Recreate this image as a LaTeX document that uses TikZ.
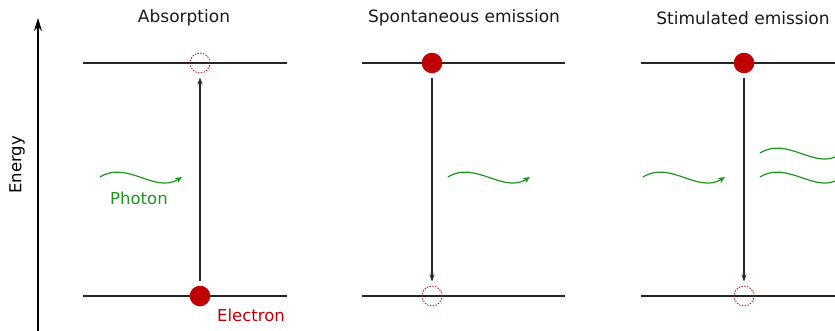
\documentclass[tikz,border=0pt]{standalone}
\usepackage{fontspec}
\setmainfont{DejaVu Sans}
\usetikzlibrary{arrows.meta,calc}
\definecolor{ered}{RGB}{192,0,0}
\definecolor{pgreen}{RGB}{30,150,30}
\begin{document}
\begin{tikzpicture}[x=1pt,y=-1pt,
  level/.style={line width=1.2pt,black!85},
  electron/.style={circle,fill=ered,minimum size=20.6pt,inner sep=0pt,outer sep=5pt},
  hole/.style={circle,draw=ered,dash pattern=on 1.4pt off 1.4pt,line width=0.8pt,minimum size=20pt,inner sep=0pt,outer sep=4.5pt},
  trans/.style={line width=1.1pt,black!85,-{Stealth[length=7pt,width=5pt]}},
  title/.style={font=\fontsize{17}{20}\selectfont,black!90},
  photon/.style={pgreen,line width=1.2pt,-{Stealth[length=7pt,width=6pt]}},
  lab/.style={font=\fontsize{16.5}{20}\selectfont}]
\useasboundingbox (0,0) rectangle (835,330);
\clip (0,0) rectangle (835,330);
% energy axis
\coordinate (ebot) at (38,332);
\coordinate (etop) at (38,18);
\draw[line width=2pt,-{Stealth[length=13pt,width=8pt]}] (ebot) -- (etop);
\node[lab,rotate=90] (energy) at (17,165) {Energy};
% titles
\node[title] (t1) at (184,18) {Absorption};
\node[title] (t2) at (464,18) {Spontaneous emission};
\node[title] (t3) at (743,18) {Stimulated emission};
% levels
\foreach \i/\xa/\xb in {1/83/287,2/362/565,3/641/845}{
  \coordinate (u\i a) at (\xa,63); \coordinate (u\i b) at (\xb,63);
  \coordinate (l\i a) at (\xa,296); \coordinate (l\i b) at (\xb,296);
  \draw[level] (u\i a) -- (u\i b);
  \draw[level] (l\i a) -- (l\i b);
}
% panel 1
\node[hole] (h1) at (200,63) {};
\node[electron] (e1) at (200,296) {};
\draw[trans] (e1) -- (h1);
\node[lab,text=ered,anchor=center] (elab) at (251,315) {Electron};
\node[lab,text=pgreen] (plab) at (139,198) {Photon};
% panel 2
\node[electron] (e2) at (432,63) {};
\node[hole] (h2) at (432,296) {};
\draw[trans] (e2) -- (h2);
% panel 3
\node[electron] (e3) at (744,63) {};
\node[hole] (h3) at (744,296) {};
\draw[trans] (e3) -- (h3);
% photons
\foreach \n/\x/\y in {p1/100/177,p2/448/177,p3/643/177,p4/760/153,p5/760/177}{
  \coordinate (\n s) at (\x,\y);
  \coordinate (\n e) at ($(\n s)+(82,0)$);
  \draw[photon] (\n s) .. controls ($(\n s)+(27,-17)$) and ($(\n s)+(55,17)$) .. (\n e);
}
\end{tikzpicture}
\end{document}
